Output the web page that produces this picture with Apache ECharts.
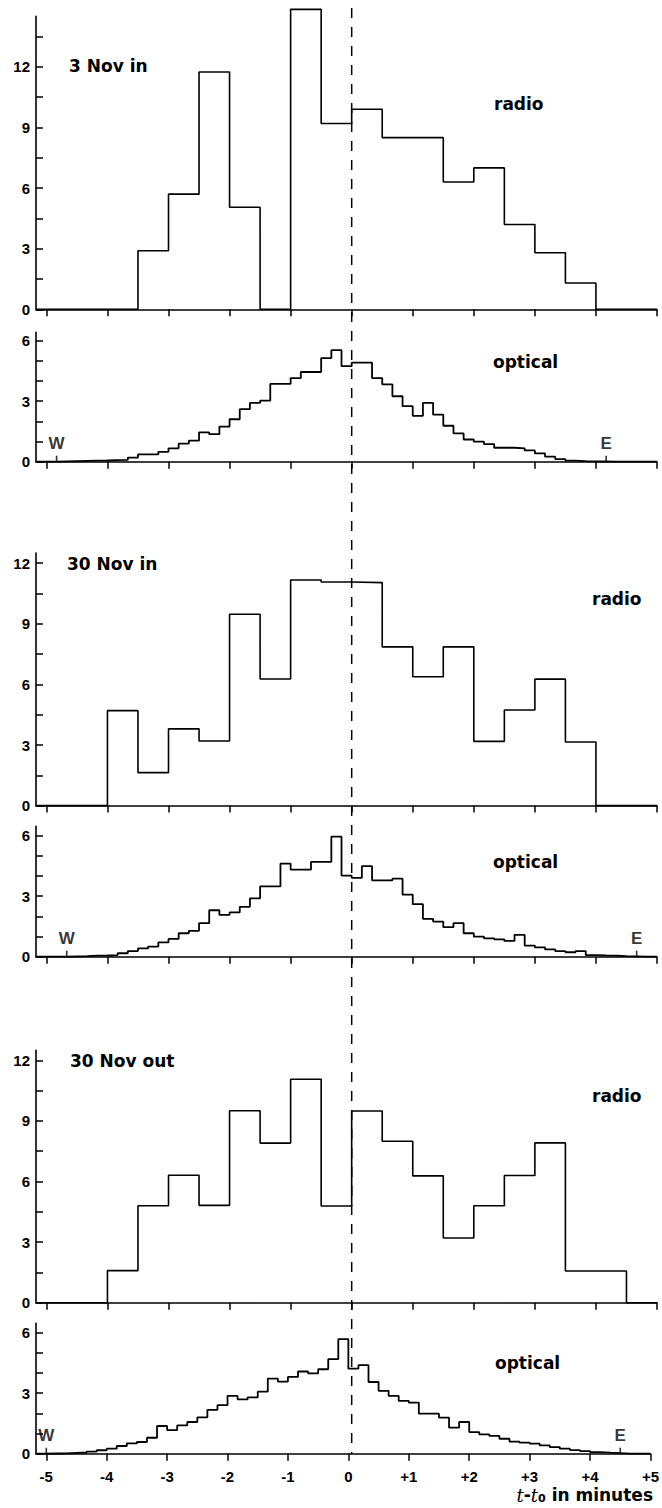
<!DOCTYPE html>
<html><head><meta charset="utf-8">
<script src="https://cdn.jsdelivr.net/npm/echarts@6/dist/echarts.min.js"></script>
<style>html,body{margin:0;padding:0;background:#fff}#c{width:662px;height:1508px}</style>
</head><body><div id="c"></div>
<script>
// ---------- data ----------
const panelNames = ['3 Nov in', '30 Nov in', '30 Nov out'];
const radioStart = -5, radioWidth = 0.5;           // 20 bins of 0.5 min
const radio3NovIn  = [0, 0, 0, 2.9, 5.7, 11.75, 5.05, 0, 14.85, 9.2, 9.9, 8.5, 8.5, 6.3, 7.0, 4.2, 2.8, 1.3, 0, 0];
const radio30NovIn = [0, 0, 4.7, 1.63, 3.8, 3.2, 9.47, 6.27, 11.17, 11.07, 11.04, 7.86, 6.38, 7.86, 3.18, 4.73, 6.26, 3.15, 0, 0];
const radio30NovOut= [0, 0, 1.59, 4.8, 6.31, 4.82, 9.5, 7.9, 11.06, 4.79, 9.49, 7.99, 6.28, 3.2, 4.8, 6.3, 7.91, 1.57, 1.57, 0];
const opticalStart = -5, opticalWidth = 1 / 6;     // 60 bins of 10 s
const optical3NovIn = [
  0, 0.02, 0.03, 0.04, 0.05, 0.06, 0.08, 0.09,
  0.2, 0.36, 0.36, 0.49, 0.66, 0.89, 1.04, 1.45, 1.36, 1.74, 2.1, 2.6, 2.91, 3.02, 3.85, 3.85, 4.14, 4.44, 4.44, 5.13, 5.52, 4.73,
  4.9, 4.9, 4.14, 3.83, 3.24, 2.75, 2.27, 2.91, 2.33, 1.78, 1.4, 1.1, 0.99, 0.87, 0.69, 0.69, 0.66, 0.56, 0.41, 0.25, 0.13, 0.05, 0.03, 0.02, 0.01, 0, 0, 0, 0, 0];
const optical30NovIn = [
  0, 0, 0.02, 0.03, 0.05, 0.06, 0.08,
  0.17, 0.28, 0.41, 0.5, 0.71, 0.88, 1.16, 1.28, 1.66, 2.3, 2.07, 2.19, 2.47, 2.89, 3.48, 3.48, 4.61, 4.31, 4.31, 4.69, 4.69, 5.94, 4.01,
  3.9, 4.48, 3.78, 3.78, 3.86, 3.07, 2.6, 1.87, 1.74, 1.46, 1.66, 1.16, 0.99, 0.91, 0.86, 0.78, 1.08, 0.55, 0.46, 0.36, 0.28, 0.22, 0.28, 0.08, 0.06, 0.05, 0.03, 0.02, 0, 0];
const optical30NovOut = [
  0.01, 0.02, 0.04, 0.06, 0.1,
  0.17, 0.25, 0.38, 0.51, 0.58, 0.79, 1.37,
  1.17, 1.4, 1.57, 1.8, 2.17, 2.4, 2.86, 2.69, 2.79, 3.07, 3.72, 3.57, 3.8, 4.07, 3.98, 4.18, 4.68, 5.67,
  4.21, 4.38, 3.55, 3.11, 2.86, 2.61, 2.53, 1.98, 1.98, 1.79, 1.29, 1.57, 1.07, 0.96, 0.88, 0.74, 0.6, 0.55, 0.5, 0.41, 0.33, 0.25, 0.18, 0.13, 0.08, 0.05, 0.03, 0, 0, 0];
const xTicks = [-5, -4, -3, -2, -1, 0, 1, 2, 3, 4, 5];
const radioYTicks = [0, 1.5, 3, 4.5, 6, 7.5, 9, 10.5, 12, 13.5];
const radioYLabels = [0, 3, 6, 9, 12];
const opticalYTicks = [0, 1, 2, 3, 4, 5, 6];
const opticalYLabels = [0, 3, 6];
const westMarks = [-4.833, -4.667, -5];
const eastMarks = [4.167, 4.667, 4.5];
const referenceTime = 0;

// ---------- layout ----------
const X_MIN = -5.17, X_MAX = 5;
const GL = 36, GW = 621;
const panels = [
  {top: 16.4,   h: 292.9, max: 14.5, kind: 'radio',   data: radio3NovIn},
  {top: 332.4,  h: 129.3, max: 6.4,  kind: 'optical', data: optical3NovIn},
  {top: 553.1,  h: 252.5, max: 12.5, kind: 'radio',   data: radio30NovIn},
  {top: 826.4,  h: 130.3, max: 6.45, kind: 'optical', data: optical30NovIn},
  {top: 1050.2, h: 252.5, max: 12.5, kind: 'radio',   data: radio30NovOut},
  {top: 1323.4, h: 130.3, max: 6.45, kind: 'optical', data: optical30NovOut}
];
const NUM_FONT = 'Liberation Sans';
const WORD_FONT = 'DejaVu Sans';

function histPoints(values, start, width) {
  const pts = [[X_MIN, 0]];
  values.forEach((v, i) => pts.push([start + i * width, v]));
  pts.push([start + values.length * width, 0]);
  return pts;
}

const grid = [], xAxis = [], yAxis = [], series = [];
panels.forEach((p, i) => {
  const last = i === panels.length - 1;
  grid.push({left: GL, width: GW, top: p.top, height: p.h});
  xAxis.push({
    type: 'value', gridIndex: i, min: X_MIN, max: X_MAX,
    axisLine: {onZero: false, lineStyle: {color: '#000', width: 1.6}},
    axisTick: {customValues: xTicks, length: 7, lineStyle: {color: '#000', width: 1.5}},
    axisLabel: {show: last, customValues: xTicks, margin: 15, color: '#000',
      fontFamily: NUM_FONT, fontWeight: 'bold', fontSize: 15,
      formatter: v => v > 0 ? '+' + v : String(v)},
    splitLine: {show: false}
  });
  const ticks = p.kind === 'radio' ? radioYTicks.filter(t => t <= p.max) : opticalYTicks;
  const labels = p.kind === 'radio' ? radioYLabels : opticalYLabels;
  yAxis.push({
    type: 'value', gridIndex: i, min: 0, max: p.max,
    axisLine: {show: true, onZero: false, lineStyle: {color: '#000', width: 1.6}},
    axisTick: {show: true, inside: true, length: 7, customValues: ticks, lineStyle: {color: '#000', width: 1.5}},
    axisLabel: {customValues: labels, margin: 6, color: '#000',
      fontFamily: NUM_FONT, fontWeight: 'bold', fontSize: 15},
    splitLine: {show: false}
  });
  const isRadio = p.kind === 'radio';
  series.push({
    type: 'line', xAxisIndex: i, yAxisIndex: i, step: 'end', showSymbol: false, clip: false,
    silent: true, animation: false,
    lineStyle: {color: '#000', width: isRadio ? 1.6 : 1.8},
    data: histPoints(p.data, isRadio ? radioStart : opticalStart, isRadio ? radioWidth : opticalWidth)
  });
  if (!isRadio) {
    const k = (i - 1) / 2;
    series.push({
      type: 'scatter', xAxisIndex: i, yAxisIndex: i, clip: false, silent: true, animation: false,
      symbol: 'rect', symbolSize: [1.6, 6], symbolOffset: [0, -3],
      itemStyle: {color: '#000'},
      label: {show: true, position: 'top', distance: 4, formatter: '{b}', color: '#000',
        fontFamily: NUM_FONT, fontWeight: 'bold', fontSize: 17},
      data: [{name: 'W', value: [westMarks[k], 0]}, {name: 'E', value: [eastMarks[k], 0]}]
    });
  }
});

// full-height grid for the dashed reference line t = t0
grid.push({left: GL, width: GW, top: 8, height: 1445.7});
xAxis.push({type: 'value', gridIndex: 6, min: X_MIN, max: X_MAX, show: false});
yAxis.push({type: 'value', gridIndex: 6, min: 0, max: 1, show: false});
series.push({
  type: 'line', xAxisIndex: 6, yAxisIndex: 6, showSymbol: false, silent: true, animation: false,
  lineStyle: {color: '#000', width: 1.5, type: [10, 9]},
  data: [[referenceTime, 1], [referenceTime, 0]]
});

const wordFont = 'bold 17px "' + WORD_FONT + '"';
const txt = (t, x, y) => ({type: 'text', x: x, y: y, silent: true,
  style: {text: t, font: wordFont, fill: '#000', align: 'left', verticalAlign: 'middle'}});

const chart = echarts.init(document.getElementById('c'), null, {renderer: 'svg'});
chart.setOption({
  animation: false,
  backgroundColor: '#fff',
  title: {
    text: '{i|t}-{i|t}{s|0} in minutes', right: 4, top: 1481,
    textStyle: {fontFamily: WORD_FONT, fontWeight: 'bold', fontSize: 17, color: '#000',
      rich: {
        i: {fontFamily: 'DejaVu Serif', fontStyle: 'italic', fontWeight: 'normal', fontSize: 18, color: '#000'},
        s: {fontFamily: WORD_FONT, fontWeight: 'bold', fontSize: 11, color: '#000', verticalAlign: 'bottom', padding: [6, 0, 0, 0]}
      }}
  },
  grid, xAxis, yAxis, series,
  graphic: [
    txt(panelNames[0], 69, 66),
    txt(panelNames[1], 67, 564),
    txt(panelNames[2], 70, 1061),
    txt('radio', 494, 104),
    txt('radio', 592, 599),
    txt('radio', 592, 1096),
    txt('optical', 493, 362),
    txt('optical', 493, 862),
    txt('optical', 495, 1363)
  ]
});
</script></body></html>
